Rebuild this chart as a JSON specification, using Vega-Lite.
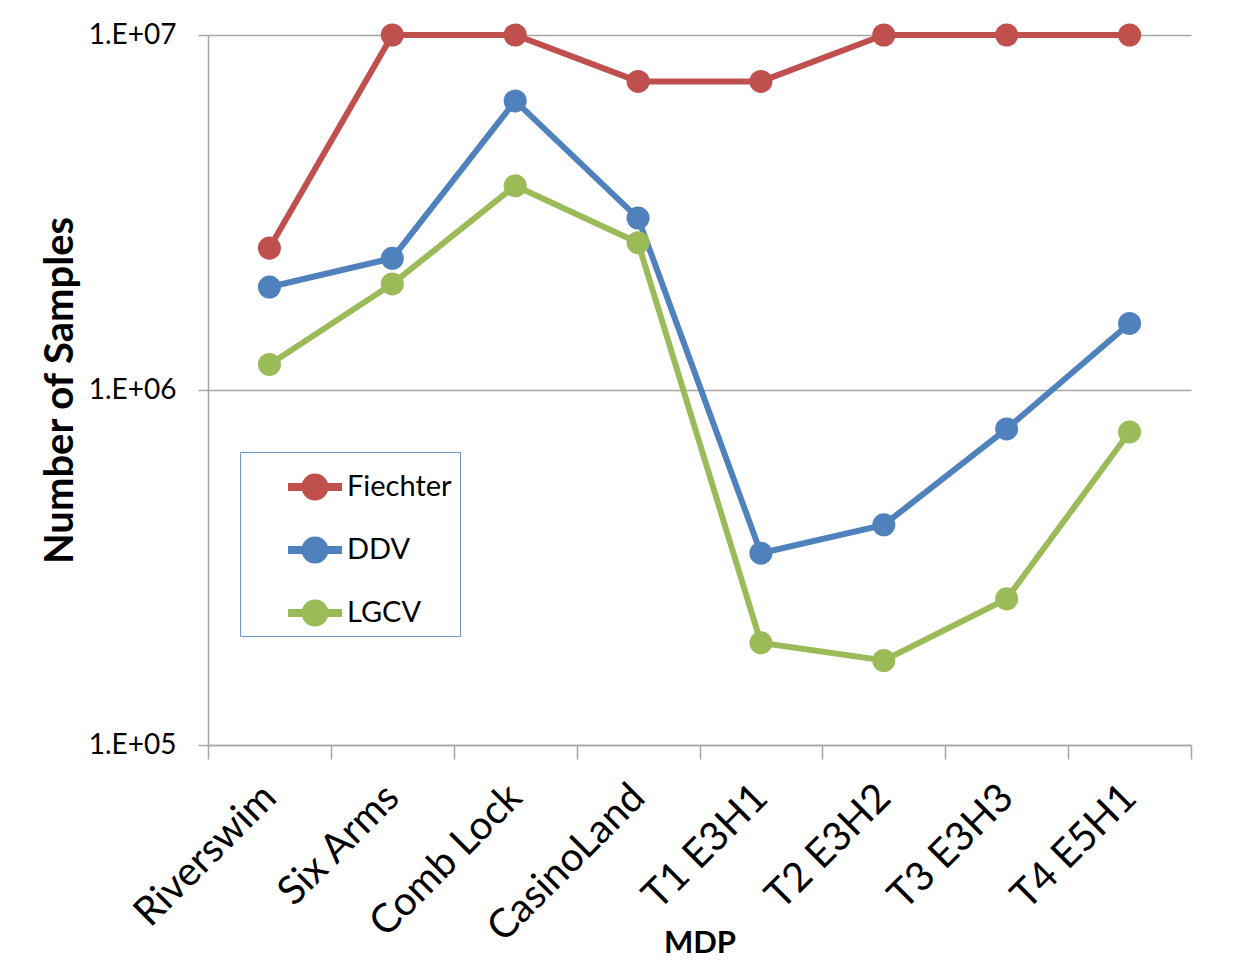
{
  "$schema": "https://vega.github.io/schema/vega-lite/v6.json",
  "width": 983,
  "height": 710,
  "autosize": {"type": "none"},
  "padding": {"left": 208, "top": 35, "right": 43, "bottom": 217},
  "background": "white",
  "config": {
    "font": "Lato",
    "view": {"stroke": null},
    "axis": {
      "domainColor": "#a6a6a6",
      "domainWidth": 1.5,
      "tickColor": "#a6a6a6",
      "tickWidth": 1.5,
      "gridColor": "#a6a6a6",
      "gridWidth": 1.5,
      "labelColor": "black",
      "titleColor": "black",
      "labelFont": "Lato",
      "titleFont": "Lato"
    },
    "legend": {
      "orient": "none",
      "legendX": 32,
      "legendY": 417,
      "padding": 8,
      "fillColor": "white",
      "strokeColor": "#6f95cc",
      "symbolType": "M-1,-0.15L1,-0.15L1,0.15L-1,0.15Z M0.5,0A0.5,0.5,0,1,1,-0.5,0A0.5,0.5,0,1,1,0.5,0Z",
      "symbolSize": 2916,
      "symbolStrokeWidth": 0,
      "symbolOffset": 40,
      "labelOffset": 5,
      "rowPadding": 21,
      "labelFontSize": 29,
      "labelColor": "black",
      "labelFont": "Lato",
      "titleOrient": "right",
      "titlePadding": 0,
      "titleFontSize": 14,
      "titleFont": "Lato",
      "titleColor": "white"
    }
  },
  "data": {
    "values": [
      {"mdp": "Riverswim", "method": "Fiechter", "samples": 2510000},
      {"mdp": "Six Arms", "method": "Fiechter", "samples": 10000000},
      {"mdp": "Comb Lock", "method": "Fiechter", "samples": 10000000},
      {"mdp": "CasinoLand", "method": "Fiechter", "samples": 7400000},
      {"mdp": "T1 E3H1", "method": "Fiechter", "samples": 7400000},
      {"mdp": "T2 E3H2", "method": "Fiechter", "samples": 10000000},
      {"mdp": "T3 E3H3", "method": "Fiechter", "samples": 10000000},
      {"mdp": "T4 E5H1", "method": "Fiechter", "samples": 10000000},
      {"mdp": "Riverswim", "method": "DDV", "samples": 1950000},
      {"mdp": "Six Arms", "method": "DDV", "samples": 2350000},
      {"mdp": "Comb Lock", "method": "DDV", "samples": 6520000},
      {"mdp": "CasinoLand", "method": "DDV", "samples": 3050000},
      {"mdp": "T1 E3H1", "method": "DDV", "samples": 347000},
      {"mdp": "T2 E3H2", "method": "DDV", "samples": 417000},
      {"mdp": "T3 E3H3", "method": "DDV", "samples": 777000},
      {"mdp": "T4 E5H1", "method": "DDV", "samples": 1540000},
      {"mdp": "Riverswim", "method": "LGCV", "samples": 1180000},
      {"mdp": "Six Arms", "method": "LGCV", "samples": 1990000},
      {"mdp": "Comb Lock", "method": "LGCV", "samples": 3760000},
      {"mdp": "CasinoLand", "method": "LGCV", "samples": 2600000},
      {"mdp": "T1 E3H1", "method": "LGCV", "samples": 194000},
      {"mdp": "T2 E3H2", "method": "LGCV", "samples": 173000},
      {"mdp": "T3 E3H3", "method": "LGCV", "samples": 258000},
      {"mdp": "T4 E5H1", "method": "LGCV", "samples": 762000}
    ]
  },
  "encoding": {
    "x": {
      "field": "mdp",
      "type": "nominal",
      "sort": ["Riverswim", "Six Arms", "Comb Lock", "CasinoLand", "T1 E3H1", "T2 E3H2", "T3 E3H3", "T4 E5H1"],
      "scale": {"paddingInner": 0, "paddingOuter": 0},
      "axis": {
        "title": "MDP",
        "titleFontSize": 31,
        "titleFontWeight": "bold",
        "titleX": 491.5,
        "titleY": 207,
        "titleAlign": "center",
        "titleBaseline": "alphabetic",
        "labelAngle": -45,
        "labelAlign": "right",
        "labelBaseline": "middle",
        "labelFontSize": 40,
        "labelPadding": 32,
        "labelLimit": 0,
        "tickSize": 14,
        "tickBand": "extent",
        "grid": false,
        "labelOverlap": false
      }
    },
    "y": {
      "field": "samples",
      "type": "quantitative",
      "scale": {"type": "log", "domain": [100000, 10000000], "nice": false},
      "axis": {
        "title": "Number of Samples",
        "titleFontSize": 40,
        "titleFontWeight": "bold",
        "titleAngle": -90,
        "titleX": -136,
        "titleY": 355,
        "titleAlign": "center",
        "titleBaseline": "alphabetic",
        "values": [100000, 1000000, 10000000],
        "labelExpr": "'1.E+0' + round(log(datum.value) / LN10)",
        "labelFontSize": 28,
        "labelPadding": 22,
        "tickSize": 10,
        "grid": true
      }
    }
  },
  "layer": [
    {
      "mark": {"type": "line", "strokeWidth": 6},
      "encoding": {
        "stroke": {
          "field": "method",
          "type": "nominal",
          "scale": {"domain": ["Fiechter", "DDV", "LGCV"], "range": ["#c0504d", "#4f81bd", "#9bbb59"]},
          "legend": {"title": "\u2003\u2003\u2003"}
        }
      }
    },
    {
      "mark": {"type": "point", "filled": true, "size": 530, "opacity": 1},
      "encoding": {
        "color": {
          "field": "method",
          "type": "nominal",
          "scale": {"domain": ["Fiechter", "DDV", "LGCV"], "range": ["#c0504d", "#4f81bd", "#9bbb59"]},
          "legend": {"title": "\u2003\u2003\u2003"}
        }
      }
    }
  ]
}
